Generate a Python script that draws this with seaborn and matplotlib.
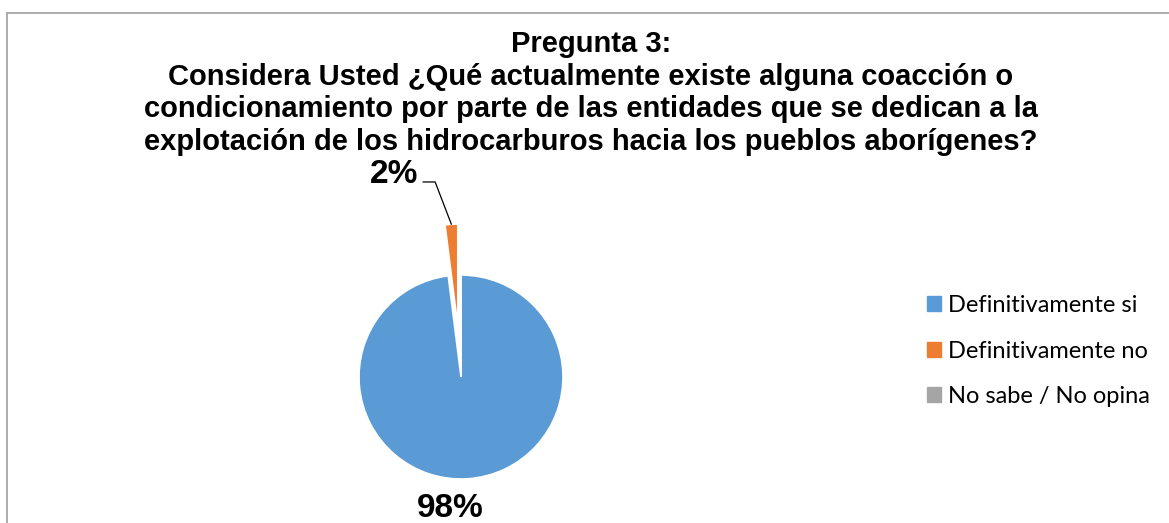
import numpy as np
import matplotlib
matplotlib.use("Agg")
import matplotlib.pyplot as plt
import seaborn as sns
from matplotlib.patches import Rectangle

# --- data ---
categories = ["Definitivamente si", "Definitivamente no", "No sabe / No opina"]
values = [98, 2, 0]
colors = ["#5B9BD5", "#ED7D31", "#A5A5A5"]
title_lines = [
    "Pregunta 3:",
    "Considera Usted ¿Qué actualmente existe alguna coacción o",
    "condicionamiento por parte de las entidades que se dedican a la",
    "explotación de los hidrocarburos hacia los pueblos aborígenes?",
]

sns.set_theme(style="white")
plt.rcParams["font.family"] = ["Liberation Sans", "DejaVu Sans"]
plt.rcParams["text.color"] = "black"

W, H = 1169, 523
fig = plt.figure(figsize=(W / 100, H / 100), dpi=100)

# chart border (right and bottom run off the picture)
fig.patches.append(Rectangle((7 / W, -0.05), 1.0, 1 - 13 / H + 0.05,
                             transform=fig.transFigure, fill=False,
                             edgecolor="#A6A6A6", linewidth=1.3))

# title
fig.text(591 / W, 1 - 93 / H, "\n".join(title_lines), ha="center", va="center",
         fontsize=21, fontweight="bold", linespacing=1.2,
         family="Liberation Sans")

# pie axes: centre (461, 377), radius 102 px
a = 1.6
size = 2 * a * 102
ax = fig.add_axes([(461 - size / 2) / W, (H - 377 - size / 2) / H, size / W, size / H])
explode = [0, 0.5, 0]
wedges, _ = ax.pie(values, colors=colors, startangle=90, counterclock=False,
                   explode=explode, radius=1,
                   wedgeprops=dict(edgecolor="white", linewidth=1.2))
ax.set_xlim(-a, a)
ax.set_ylim(-a, a)
ax.set_aspect("equal")
ax.axis("off")

# labels
total = sum(values)
ax.text(-0.11, -1.29, f"{values[0] / total:.0%}", ha="center", va="center",
        fontsize=24, fontweight="bold", clip_on=False)

w = wedges[1]
mid = np.deg2rad((w.theta1 + w.theta2) / 2)
tip_r = 1 + explode[1]
tip = (tip_r * np.cos(mid), tip_r * np.sin(mid))
ax.text(-0.42, 1.99, f"{values[1] / total:.0%}", ha="right", va="center",
        fontsize=24, fontweight="bold", clip_on=False)
ax.annotate("", xy=tip, xytext=(-0.373, 1.912), annotation_clip=False,
            arrowprops=dict(arrowstyle="-", color="black", lw=0.9,
                            shrinkA=0, shrinkB=0,
                            connectionstyle="angle,angleA=0,angleB=111,rad=0"))

# legend
handles = [plt.Rectangle((0, 0), 1, 1, color=c) for c in colors]
fig.legend(handles, categories, loc="center left",
           bbox_to_anchor=(927 / W, 1 - 351 / H), frameon=False,
           borderaxespad=0, borderpad=0,
           prop={"family": "Lato", "size": 17},
           handlelength=0.6, handleheight=0.6, handletextpad=0.3,
           labelspacing=1.05)

fig.savefig("out.png", dpi=100)
